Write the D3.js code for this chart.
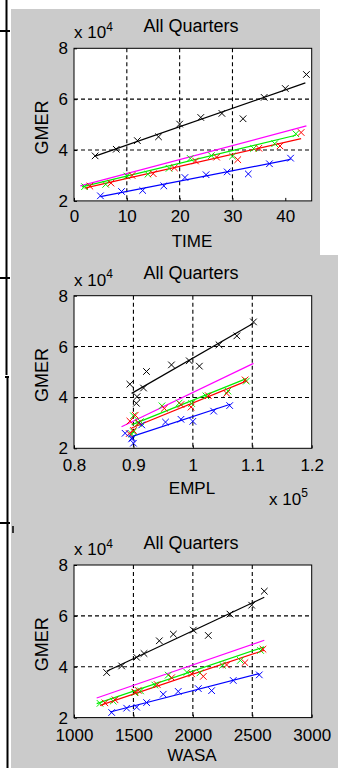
<!DOCTYPE html>
<html>
<head>
<meta charset="utf-8">
<script src="https://cdn.jsdelivr.net/npm/d3@7"></script>
<style>
  body { margin: 0; background: #fff; }
  text { font-family: "Liberation Sans", Arial, sans-serif; fill: #000; }
</style>
</head>
<body>
<svg id="fig" width="338" height="768"></svg>
<script>
// observations, one quarter per colour: time index, GMER, EMPL, WASA
var blackTime = [4, 8, 12, 16, 20, 24, 28, 32, 36, 40, 44];
var blackGmer = [37700, 40300, 43700, 45200, 50200, 52800, 54400, 52300, 60700, 64200, 69700];
var blackEmpl = [90500, 90600, 91700, 89400, 92200, 96400, 99400, 101100, 104400, 107400, 110200];
var blackWasa = [1275, 1401, 1527, 1589, 1718, 1836, 2004, 2130, 2312, 2495, 2601];

var greenTime = [2, 6, 10, 14, 18, 22, 26, 30, 34, 38, 42];
var greenGmer = [25600, 26500, 29800, 30500, 32800, 36700, 37800, 37600, 40600, 42500, 46400];
var greenEmpl = [89700, 90000, 90800, 91200, 90000, 94800, 97700, 99800, 102200, 105900, 109000];
var greenWasa = [1219, 1330, 1510, 1560, 1680, 1793, 1950, 2060, 2250, 2400, 2570];

var redTime = [3, 7, 11, 15, 19, 23, 27, 31, 35, 39, 43];
var redGmer = [25800, 27000, 30000, 30700, 33000, 35700, 37200, 36200, 40700, 41600, 46900];
var redEmpl = [89300, 90000, 90900, 89400, 90300, 95200, 98000, 99700, 102600, 105700, 108800];
var redWasa = [1260, 1345, 1515, 1540, 1700, 1822, 1990, 2088, 2284, 2438, 2590];

var blueTime = [5, 9, 13, 17, 21, 25, 29, 33, 37, 41];
var blueGmer = [22000, 23700, 24100, 25900, 29200, 30300, 31400, 30600, 34600, 36800];
var blueEmpl = [90000, 89700, 89800, 88600, 91400, 95400, 98000, 100000, 103500, 106200];
var blueWasa = [1317, 1443, 1527, 1611, 1751, 1877, 2046, 2158, 2340, 2559];

// fitted lines: [x0, y0, x1, y1], order black, magenta, green, red, blue
var timeFits = [[4, 37600, 43.8, 66400], [1.2, 25900, 44, 49500], [1.5, 25500, 42, 45800],
                [2, 25000, 43, 44500], [5, 21700, 41, 36300]];
var emplFits = [[89700, 41600, 110200, 69200], [88000, 28500, 110200, 53400], [89700, 29200, 109100, 47500],
                [89700, 28000, 109100, 46500], [89700, 24600, 106300, 37300]];
var wasaFits = [[1275, 38200, 2601, 67300], [1191, 27700, 2601, 50400], [1191, 25500, 2601, 47800],
                [1219, 24800, 2601, 46500], [1303, 22200, 2559, 37300]];

var yTicks = [20000, 40000, 60000, 80000];
var timeTicks = [0, 10, 20, 30, 40];
var emplTicks = [80000, 90000, 100000, 110000, 120000];
var wasaTicks = [1000, 1500, 2000, 2500, 3000];

var colors = ["#000000", "#ff00ff", "#00ee00", "#ff0000", "#0000ff"];

var svg = d3.select("#fig");

// gray figure background
svg.append("rect").attr("x", 11).attr("y", 9).attr("width", 309).attr("height", 246).attr("fill", "#cbcbcb");
svg.append("rect").attr("x", 11).attr("y", 255).attr("width", 327).attr("height", 513).attr("fill", "#cbcbcb");

// leftover frame lines at the left edge of the screenshot
svg.append("rect").attr("x", 5.5).attr("y", 0).attr("width", 2).attr("height", 375).attr("fill", "#000");
svg.append("rect").attr("x", 6.5).attr("y", 376).attr("width", 2).attr("height", 392).attr("fill", "#000");
svg.append("rect").attr("x", 5).attr("y", 376).attr("width", 4).attr("height", 2).attr("fill", "#000");
[30, 277, 522].forEach(function(yy) {
  svg.append("rect").attr("x", 0).attr("y", yy).attr("width", 10).attr("height", 2).attr("fill", "#000");
});
svg.append("rect").attr("x", 12).attr("y", 526).attr("width", 2).attr("height", 7).attr("fill", "#333");

var panels = [
  {xs: [blackTime, greenTime, redTime, blueTime], fits: timeFits, domain: [0, 45], ticks: timeTicks,
   fmt: d3.format("d"), label: "TIME", top: 48.3, tickPad: 9, labelDy: 45.7},
  {xs: [blackEmpl, greenEmpl, redEmpl, blueEmpl], fits: emplFits, domain: [80000, 120000], ticks: emplTicks,
   fmt: function(d) { return d3.format("")(+(d / 1e5).toFixed(1)); }, label: "EMPL", top: 295.7, tickPad: 11, labelDy: 45.7,
   exp: "5"},
  {xs: [blackWasa, greenWasa, redWasa, blueWasa], fits: wasaFits, domain: [1000, 3000], ticks: wasaTicks,
   fmt: d3.format("d"), label: "WASA", top: 565, tickPad: 11.5, labelDy: 43.4}
];
var gmers = [blackGmer, greenGmer, redGmer, blueGmer];
var markerColors = [colors[0], colors[2], colors[3], colors[4]];

var left = 74, right = 311.7, boxH = 152.6;

panels.forEach(function(p) {
  var top = p.top, bottom = top + boxH;
  var x = d3.scaleLinear().domain(p.domain).range([left, right]);
  var y = d3.scaleLinear().domain([20000, 80000]).range([bottom, top]);
  var g = svg.append("g");

  g.append("rect").attr("x", left).attr("y", top).attr("width", right - left).attr("height", boxH)
    .attr("fill", "#fff");

  // dashed grid
  g.selectAll(".gx").data(p.ticks.slice(1, -1)).enter().append("line")
    .attr("x1", function(d) { return x(d); }).attr("x2", function(d) { return x(d); })
    .attr("y1", top).attr("y2", bottom)
    .attr("stroke", "#000").attr("stroke-width", 1.1).attr("stroke-dasharray", "4,3");
  g.selectAll(".gy").data(yTicks.slice(1, -1)).enter().append("line")
    .attr("x1", left).attr("x2", right)
    .attr("y1", function(d) { return y(d); }).attr("y2", function(d) { return y(d); })
    .attr("stroke", "#000").attr("stroke-width", 1.1).attr("stroke-dasharray", "4,3");

  // fitted lines
  p.fits.forEach(function(f, i) {
    g.append("line")
      .attr("x1", x(f[0])).attr("y1", y(f[1])).attr("x2", x(f[2])).attr("y2", y(f[3]))
      .attr("stroke", colors[i]).attr("stroke-width", 1.2);
  });

  // x markers
  p.xs.forEach(function(xv, s) {
    var pts = xv.map(function(v, i) { return [v, gmers[s][i]]; });
    g.selectAll(null).data(pts).enter().append("path")
      .attr("d", function(d) {
        var cx = x(d[0]), cy = y(d[1]), r = 3.3;
        return "M" + (cx - r) + "," + (cy - r) + "L" + (cx + r) + "," + (cy + r) +
               "M" + (cx - r) + "," + (cy + r) + "L" + (cx + r) + "," + (cy - r);
      })
      .attr("stroke", markerColors[s]).attr("stroke-width", 1).attr("fill", "none");
  });

  // box
  g.append("rect").attr("x", left).attr("y", top).attr("width", right - left).attr("height", boxH)
    .attr("fill", "none").attr("stroke", "#000").attr("stroke-width", 1);

  // axes
  var ax = g.append("g").attr("transform", "translate(0," + bottom + ")")
    .call(d3.axisBottom(x).tickValues(p.ticks).tickFormat(p.fmt).tickSize(-3).tickPadding(p.tickPad));
  var ay = g.append("g").attr("transform", "translate(" + left + ",0)")
    .call(d3.axisLeft(y).tickValues(yTicks).tickFormat(function(d) { return d / 1e4; }).tickSize(-3).tickPadding(6));
  [ax, ay].forEach(function(a) {
    a.select(".domain").remove();
    a.attr("font-size", 17).attr("font-family", null);
    a.selectAll("text").attr("fill", "#000");
  });

  // titles and labels
  g.append("text").attr("x", 191).attr("y", top - 16.5).attr("text-anchor", "middle")
    .attr("font-size", 18).text("All Quarters");
  var e = g.append("text").attr("x", left).attr("y", top - 10).attr("font-size", 17).text("x 10");
  e.append("tspan").attr("dy", -7.5).attr("font-size", 12).text("4");
  g.append("text").attr("x", 192).attr("y", bottom + p.labelDy).attr("text-anchor", "middle")
    .attr("font-size", 17).text(p.label);
  g.append("text").attr("transform", "translate(48," + (top + boxH / 2 + 3) + ") rotate(-90)")
    .attr("text-anchor", "middle").attr("font-size", 18).text("GMER");
  if (p.exp) {
    var e2 = g.append("text").attr("x", 269).attr("y", bottom + 56.7).attr("font-size", 17).text("x 10");
    e2.append("tspan").attr("dy", -8.5).attr("font-size", 12).text(p.exp);
  }
});
</script>
</body>
</html>
